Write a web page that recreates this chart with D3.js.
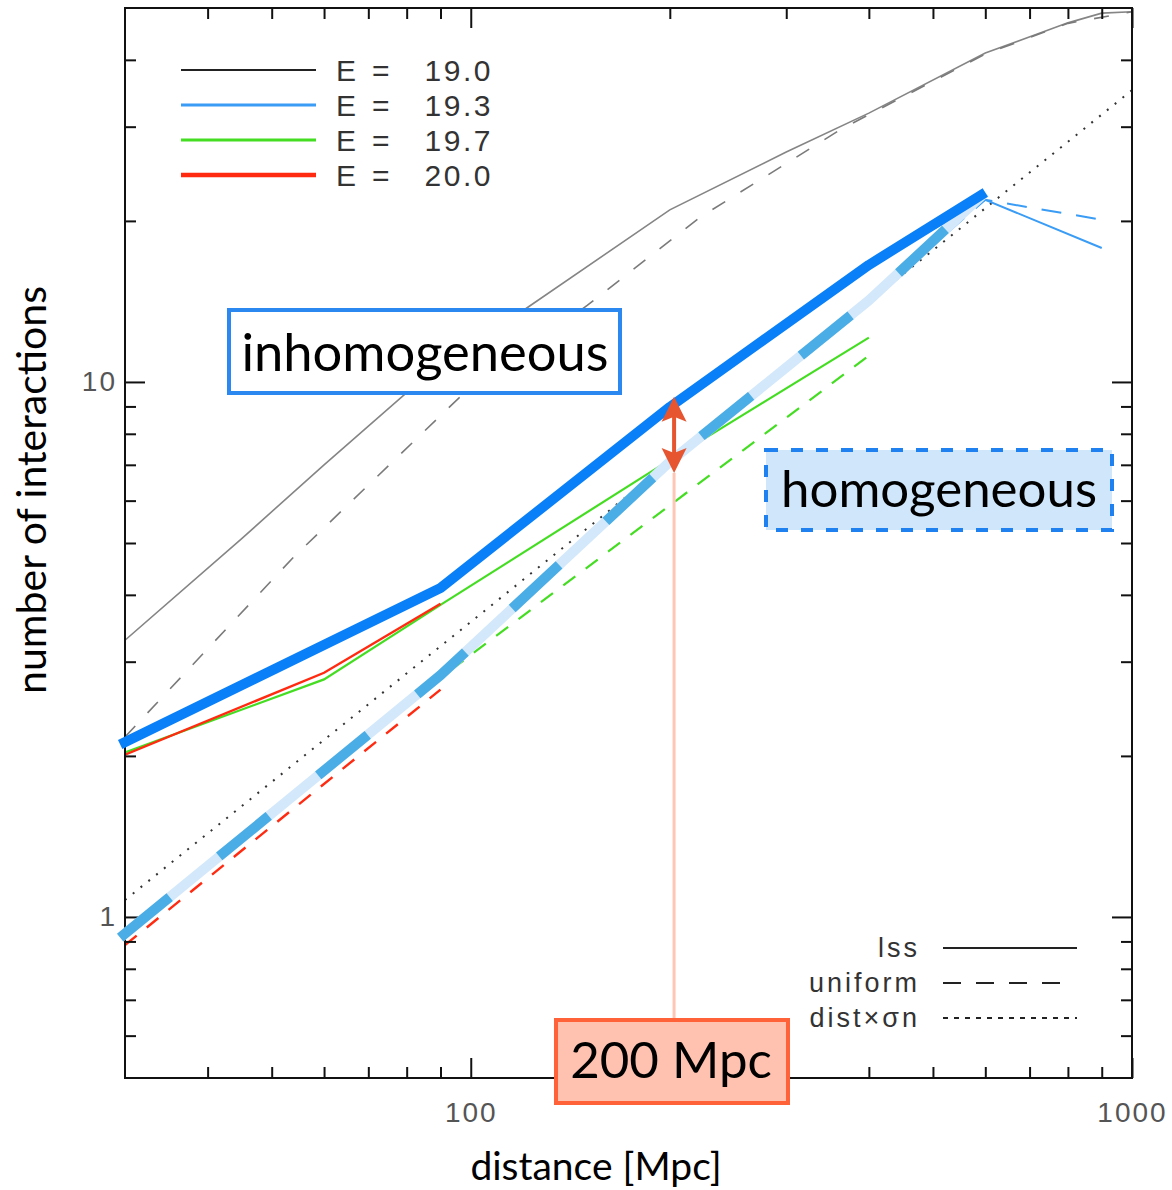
<!DOCTYPE html>
<html><head><meta charset="utf-8">
<script src="https://cdn.jsdelivr.net/npm/d3@7"></script>
<style>
body{margin:0;background:#fff;}
svg{display:block;}
</style></head>
<body>
<svg id="chart" width="1172" height="1190"></svg>
<script>
// ---------- data ----------
const xDomain = [30, 1000];
const yDomain = [0.5, 50];
const xMajorTicks = [100, 1000];
const xMinorTicks = [40, 50, 60, 70, 80, 90, 200, 300, 400, 500, 600, 700, 800, 900];
const yMajorTicks = [1, 10];
const yMinorTicks = [0.6, 0.7, 0.8, 0.9, 2, 3, 4, 5, 6, 7, 8, 9, 20, 30, 40];
const xTickLabels = ["100", "1000"];
const yTickLabels = ["1", "10"];

// E = 19.0 (grey)
const lss190X = [30, 45, 60, 80, 120, 200, 300, 400, 600, 800, 900, 1000];
const lss190Y = [3.29, 5.09, 7.0, 9.55, 13.6, 20.97, 26.9, 31.8, 41.2, 46.9, 48.9, 49.2];
const uni190X = [30, 54, 96, 150, 222, 362, 400, 600, 800, 1000];
const uni190Y = [2.17, 4.71, 9.34, 13.9, 20.3, 29.6, 31.6, 41.0, 46.8, 49.2];
// E = 19.3 (light blue)
const lss193X = [30, 90, 200, 400, 600, 900];
const lss193Y = [2.10, 4.12, 8.98, 16.55, 21.9, 17.8];
const uni193X = [30, 90, 200, 400, 600, 900];
const uni193Y = [0.92, 2.83, 7.09, 14.2, 21.9, 20.1];
// E = 19.7 (green)
const lss197X = [30, 60, 90, 200, 400];
const lss197Y = [2.03, 2.78, 3.83, 7.15, 12.1];
const uni197X = [30, 90, 200, 400];
const uni197Y = [0.93, 2.8, 5.88, 11.2];
// E = 20.0 (red)
const lss200X = [30, 60, 90];
const lss200Y = [2.01, 2.86, 3.85];
const uni200X = [30, 90];
const uni200Y = [0.886, 2.66];
// dist x sigma n
const distX = [30, 1000];
const distY = [1.076, 35.1];
// annotation overlays
const inhomX = [29.5, 90, 200, 400, 600];
const inhomY = [2.10, 4.12, 8.98, 16.55, 22.6];
const homX = [29.5, 90, 200, 400, 600];
const homY = [0.915, 2.83, 7.09, 14.2, 22.6];
const arrowX = 203;
const arrowYTop = 9.38;
const arrowYBottom = 6.76;
const legendLabels = ["19.0", "19.3", "19.7", "20.0"];
const styleLabels = ["lss", "uniform", "dist×σn"];

// ---------- layout ----------
const svg = d3.select("#chart");
const L = 125, R = 1132, T = 8, B = 1078;
const x = d3.scaleLog().domain(xDomain).range([L, R]);
const y = d3.scaleLog().domain(yDomain).range([B, T]);
const line = (xs, ys) => d3.line().x((d, i) => x(xs[i])).y((d, i) => y(ys[i]))(xs);

svg.append("defs").append("clipPath").attr("id", "plotclip")
  .append("rect").attr("x", L).attr("y", T).attr("width", R - L).attr("height", B - T);

const plot = svg.append("g").attr("clip-path", "url(#plotclip)");

function series(xs, ys, color, w, dash) {
  plot.append("path").attr("d", line(xs, ys)).attr("fill", "none")
    .attr("stroke", color).attr("stroke-width", w)
    .attr("stroke-dasharray", dash || null);
}
const GREY = "#858585", LBLUE = "#3a9cf5", GREEN = "#44dd22", RED = "#ff2a10";

series(distX, distY, "#333", 2, "2,8");
series(lss190X, lss190Y, GREY, 1.6);
series(uni190X, uni190Y, "#7a7a7a", 1.6, "15,18");
series(lss193X, lss193Y, LBLUE, 2);
series(uni193X, uni193Y, LBLUE, 2, "20,15");
series(uni197X, uni197Y, GREEN, 2.2, "15,13");
series(uni200X, uni200Y, RED, 2.4, "15,13");
series(lss197X, lss197Y, GREEN, 2.2);
series(lss200X, lss200Y, RED, 2.4);

// ---------- axes ----------
const axes = svg.append("g");
function addAxis(gen, tx, ty, ticks, size, labels, pad) {
  const a = gen.tickValues(ticks).tickSize(size).tickPadding(pad || 3)
    .tickFormat(labels ? (d, i) => labels[i] : () => "");
  const g = axes.append("g").attr("transform", `translate(${tx},${ty})`).call(a);
  g.select(".domain").remove();
  g.selectAll("line").attr("stroke", "#111").attr("stroke-width", 2);
  g.selectAll("text").attr("font-family", "Liberation Sans, Arial, sans-serif")
    .attr("font-size", 28).attr("fill", "#555").attr("letter-spacing", 2);
  return g;
}
addAxis(d3.axisBottom(x), 0, B, xMinorTicks, -11);
addAxis(d3.axisBottom(x), 0, B, xMajorTicks, -20, xTickLabels, 24);
addAxis(d3.axisTop(x), 0, T, xMinorTicks, -11);
addAxis(d3.axisTop(x), 0, T, xMajorTicks, -20);
addAxis(d3.axisLeft(y), L, 0, yMinorTicks, -11);
addAxis(d3.axisLeft(y), L, 0, yMajorTicks, -20, yTickLabels, 8);
addAxis(d3.axisRight(y), R, 0, yMinorTicks, -11);
addAxis(d3.axisRight(y), R, 0, yMajorTicks, -20);
axes.append("rect").attr("x", L).attr("y", T).attr("width", R - L).attr("height", B - T)
  .attr("fill", "none").attr("stroke", "#111").attr("stroke-width", 2);

// axis titles
svg.append("text").attr("x", 596).attr("y", 1180).attr("text-anchor", "middle")
  .attr("font-family", "Lato, sans-serif").attr("font-size", 39).attr("fill", "#000")
  .text("distance [Mpc]");
svg.append("text").attr("transform", "translate(46,490) rotate(-90)").attr("text-anchor", "middle")
  .attr("font-family", "Lato, sans-serif").attr("font-size", 41).attr("fill", "#000")
  .text("number of interactions");

// ---------- legends ----------
const legColors = ["#222", LBLUE, GREEN, RED];
const legWidths = [2, 3, 3, 4.5];
const leg = svg.append("g");
legendLabels.forEach((lab, i) => {
  const cy = 70 + i * 35;
  leg.append("line").attr("x1", 181).attr("x2", 316).attr("y1", cy).attr("y2", cy)
    .attr("stroke", legColors[i]).attr("stroke-width", legWidths[i]);
  const tf = t => t.attr("font-family", "Liberation Sans, Arial, sans-serif").attr("font-size", 30)
    .attr("fill", "#333").attr("y", cy + 11);
  tf(leg.append("text").attr("x", 336).text("E"));
  tf(leg.append("text").attr("x", 372).text("="));
  tf(leg.append("text").attr("x", 493).attr("text-anchor", "end").attr("letter-spacing", 2.5).text(lab));
});
const styleDash = [null, "18,15", "5,6"];
const styleEnd = [1077, 1062, 1077];
styleLabels.forEach((lab, i) => {
  const cy = 948 + i * 35;
  leg.append("line").attr("x1", 943).attr("x2", styleEnd[i]).attr("y1", cy).attr("y2", cy)
    .attr("stroke", "#222").attr("stroke-width", 2).attr("stroke-dasharray", styleDash[i]);
  leg.append("text").attr("x", 920).attr("y", cy + 9).attr("text-anchor", "end")
    .attr("font-family", "Liberation Sans, Arial, sans-serif").attr("font-size", 27)
    .attr("letter-spacing", 3).attr("fill", "#333").text(lab);
});

// ---------- annotation overlays ----------
const ann = svg.append("g");
ann.append("path").attr("d", line(homX, homY)).attr("fill", "none")
  .attr("stroke", "#d3e8fb").attr("stroke-width", 10);
ann.append("path").attr("d", line(homX, homY)).attr("fill", "none")
  .attr("stroke", "#4badE6").attr("stroke-width", 10).attr("stroke-dasharray", "64,64");
ann.append("path").attr("d", line(inhomX, inhomY)).attr("fill", "none")
  .attr("stroke", "#0a80f8").attr("stroke-width", 10).attr("stroke-linejoin", "round");

// vertical marker at 200 Mpc
const ax = x(arrowX);
const aTop = y(arrowYTop), aBot = y(arrowYBottom);
ann.append("line").attr("x1", ax).attr("x2", ax).attr("y1", aBot).attr("y2", 1018)
  .attr("stroke", "#ffc6b6").attr("stroke-width", 3);
ann.append("line").attr("x1", ax).attr("x2", ax).attr("y1", aTop + 18).attr("y2", aBot - 18)
  .attr("stroke", "#e6552f").attr("stroke-width", 4);
ann.append("path").attr("d", `M${ax},${aTop} L${ax - 12.5},${aTop + 25} L${ax},${aTop + 20} L${ax + 12.5},${aTop + 25} Z`)
  .attr("fill", "#e6552f");
ann.append("path").attr("d", `M${ax},${aBot} L${ax - 12.5},${aBot - 25} L${ax},${aBot - 20} L${ax + 12.5},${aBot - 25} Z`)
  .attr("fill", "#e6552f");

// label boxes
function box(x0, y0, w, h, fill, stroke, dash, label, tx, ty, fs) {
  ann.append("rect").attr("x", x0).attr("y", y0).attr("width", w).attr("height", h)
    .attr("fill", fill).attr("stroke", stroke).attr("stroke-width", 4)
    .attr("stroke-dasharray", dash || null);
  ann.append("text").attr("x", tx).attr("y", ty).attr("text-anchor", "middle")
    .attr("font-family", "Lato, sans-serif").attr("font-size", fs).attr("fill", "#000").text(label);
}
box(229, 310, 391, 83, "#fff", "#2a88f0", null, "inhomogeneous", 425, 371, 52.5);
box(766, 450, 346, 80, "#cfe6fb", "#1f80f0", "12,13", "homogeneous", 939, 507, 51);
box(556, 1020, 232, 83, "#ffc1b0", "#ff6238", null, "200 Mpc", 671, 1078, 51);
</script>
</body></html>
